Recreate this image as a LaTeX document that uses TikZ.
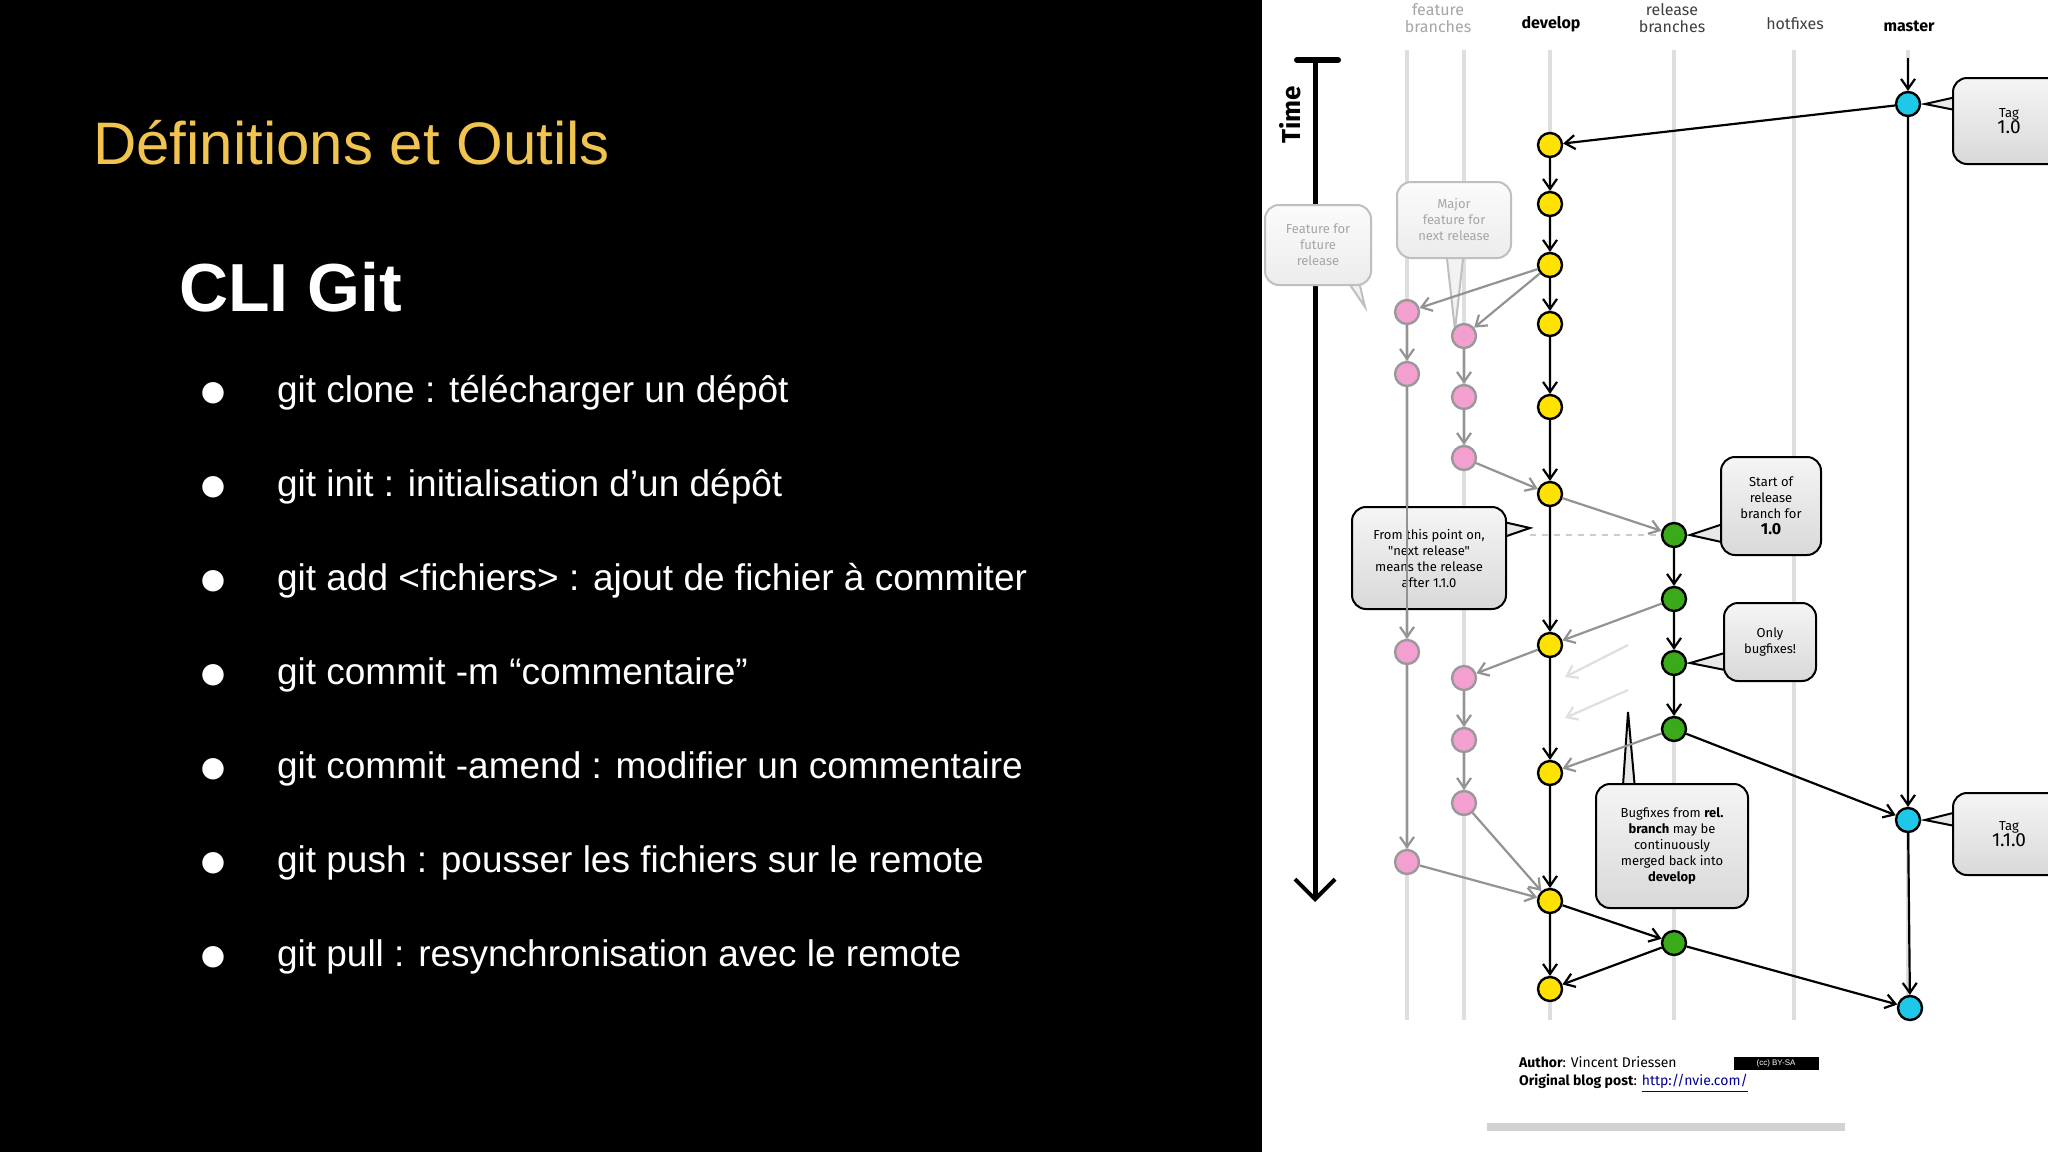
\documentclass[tikz,border=0pt]{standalone}
\usepackage{fontspec}
\setmainfont{Liberation Sans}
\newfontfamily\dfont{Fira Sans}
\newfontfamily\symfont{DejaVu Sans}
\usetikzlibrary{arrows.meta,shadows}
\definecolor{titley}{RGB}{241,196,80}
\definecolor{cyel}{RGB}{255,226,0}
\definecolor{cpink}{RGB}{243,160,208}
\definecolor{cgreen}{RGB}{58,170,26}
\definecolor{ccyan}{RGB}{30,200,232}
\definecolor{lane}{RGB}{222,222,222}
\tikzset{
 cmt/.style={circle,draw=black,line width=1.2pt,minimum size=12pt,inner sep=0pt},
 dv/.style={cmt,fill=cyel},
 ft/.style={cmt,fill=cpink,draw=gray!80},
 rl/.style={cmt,fill=cgreen},
 ms/.style={cmt,fill=ccyan},
 blk/.style={-{Straight Barb[length=5pt,width=7pt]},line width=1.1pt,black},
 gry/.style={-{Straight Barb[length=5pt,width=7pt]},line width=1.1pt,gray!85},
 faint/.style={-{Straight Barb[length=5pt,width=7pt]},line width=1.1pt,gray!25},
 bub/.style={draw=black,line width=1pt,rounded corners=7pt,top color=gray!8,bottom color=gray!30,align=center,font=\dfont\fontsize{6.5}{8}\selectfont,inner sep=2pt},
 fbub/.style={bub,draw=gray!50,top color=gray!3,bottom color=gray!15,text=gray!70},
 tl/.style={draw=black,line width=1pt,fill=gray!18},
 ftl/.style={draw=gray!50,line width=1pt,fill=gray!10},
 hd/.style={font=\dfont\fontsize{8}{8.5}\selectfont,align=center,text=gray!70},
 hdb/.style={font=\dfont\bfseries\fontsize{8}{8.5}\selectfont,align=center},
 itm/.style={anchor=west,text=white,font=\fontsize{18.5}{22}\selectfont}
}
\begin{document}
\begin{tikzpicture}[x=0.5pt,y=-0.5pt]
\useasboundingbox (0,0) rectangle (2048,1152);
\fill[black] (0,0) rectangle (1262,1152);
\fill[white] (1262,0) rectangle (2048,1152);
% left text
\node[anchor=west,text=titley,font=\fontsize{30}{34}\selectfont] (title) at (86,143) {Définitions et Outils};
\node[anchor=west,text=white,font=\bfseries\fontsize{34}{40}\selectfont] (cli) at (172,287) {CLI Git};
\foreach \y/\t [count=\i] in {393/{git clone : télécharger un dépôt},487/{git init : initialisation d’un dépôt},581/{git add <fichiers> : ajout de fichier à commiter},675/{git commit -m “commentaire”},769/{git commit -amend : modifier un commentaire},863/{git push : pousser les fichiers sur le remote},957/{git pull : resynchronisation avec le remote}}{
 \node[text=white,font=\symfont\fontsize{14}{14}\selectfont] (b\i) at (213,\y) {●};
 \node[itm] (t\i) at (270,\y) {\t};
}
% lanes
\foreach \x/\n in {1407/l1,1464/l2,1550/l3,1674/l4,1794/l5,1908/l6}{
 \draw[lane,line width=2pt] (\x,50) -- (\x,1020);
}
% headers
\node[hd] (h1) at (1438,18) {feature\\branches};
\node[hdb] (h2) at (1551,24) {develop};
\node[hd,text=black!75] (h3) at (1672,18) {release\\branches};
\node[hd,text=black!75] (h4) at (1795,24) {hotfixes};
\node[hdb] (h5) at (1909,26) {master};
% time axis
\coordinate (ta) at (1315,59);
\coordinate (tb) at (1315,902);
\draw[line width=3pt,line cap=round] (1297,60) -- (1338,60);
\draw[line width=2.5pt,-{Straight Barb[length=10pt,width=20pt,line width=2pt]}] (ta) -- (tb);
\node[rotate=90,font=\dfont\bfseries\fontsize{13}{13}\selectfont] (time) at (1290,115) {Time};
% bubbles (tails first)
\draw[ftl] (1340,270) -- (1365,307) -- (1355,265) -- cycle;
\node[fbub,minimum width=53pt,minimum height=40pt] (bf) at (1318,245) {Feature for\\future\\release};
\draw[ftl] (1446,250) -- (1455,330) -- (1464,250) -- cycle;
\node[fbub,minimum width=57pt,minimum height=38pt] (bm) at (1454,220) {Major\\feature for\\next release};
\draw[tl] (1495,520) -- (1530,528) -- (1495,540) -- cycle;
\node[bub,minimum width=77pt,minimum height=51pt] (bp) at (1429,558) {From this point on,\\"next release"\\means the release\\after 1.1.0};
\draw[dashed,gray!40,line width=1pt] (1530,535) -- (1660,535);
\draw[tl] (1735,520) -- (1690,535) -- (1735,545) -- cycle;
\node[bub,minimum width=50pt,minimum height=49pt] (bs) at (1771,506) {Start of\\release\\branch for\\{\bfseries\fontsize{8}{9}\selectfont 1.0}};
\draw[tl] (1735,650) -- (1690,663) -- (1735,672) -- cycle;
\node[bub,minimum width=46pt,minimum height=39pt] (bo) at (1770,642) {Only\\bugfixes!};
\draw[tl] (1622,800) -- (1628,712) -- (1636,800) -- cycle;
\node[bub,minimum width=76pt,minimum height=62pt] (bb) at (1672,846) {Bugfixes from \textbf{rel.}\\\textbf{branch} may be\\continuously\\merged back into\\\textbf{develop}};
\draw[tl] (1965,95) -- (1925,104) -- (1965,112) -- cycle;
\node[bub,minimum width=56pt,minimum height=43pt,anchor=west] (bt1) at (1952,121) {Tag\\{\fontsize{9.5}{11}\selectfont 1.0}};
\draw[tl] (1965,810) -- (1925,820) -- (1965,828) -- cycle;
\node[bub,minimum width=56pt,minimum height=41pt,anchor=west] (bt2) at (1952,834) {Tag\\{\fontsize{9.5}{11}\selectfont 1.1.0}};
% commits
\foreach \y [count=\i] in {145,204,265,324,407,494,645,773,901,989}{\node[dv] (d\i) at (1550,\y) {};}
\foreach \y [count=\i] in {312,374,652,862}{\node[ft] (f\i) at (1407,\y) {};}
\foreach \y [count=\i] in {336,397,458,678,740,803}{\node[ft] (g\i) at (1464,\y) {};}
\foreach \y [count=\i] in {535,599,663,729,943}{\node[rl] (r\i) at (1674,\y) {};}
\node[ms] (m1) at (1908,104) {};
\node[ms] (m2) at (1908,820) {};
\node[ms] (m3) at (1910,1008) {};
\coordinate (mtop) at (1908,58);
% edges
\draw[blk] (mtop) -- (m1);
\draw[blk] (m1) -- (d1);
\foreach \a/\b in {1/2,2/3,3/4,4/5,5/6,6/7,7/8,8/9,9/10}{\draw[blk] (d\a) -- (d\b);}
\draw[gry] (d3) -- (f1);
\draw[gry] (d3) -- (g1);
\foreach \a/\b in {1/2,2/3,3/4}{\draw[gry] (f\a) -- (f\b);}
\foreach \a/\b in {1/2,2/3,4/5,5/6}{\draw[gry] (g\a) -- (g\b);}
\draw[gry] (g3) -- (d6);
\draw[gry] (d6) -- (r1);
\foreach \a/\b in {1/2,2/3,3/4}{\draw[blk] (r\a) -- (r\b);}
\draw[gry] (r2) -- (d7);
\draw[gry] (d7) -- (g4);
\coordinate (fa1) at (1628,645); \coordinate (fa2) at (1565,677);
\coordinate (fb1) at (1628,690); \coordinate (fb2) at (1565,718);
\draw[faint] (fa1) -- (fa2);
\draw[faint] (fb1) -- (fb2);
\draw[gry] (r4) -- (d8);
\draw[blk] (r4) -- (m2);
\draw[blk] (m1) -- (m2);
\draw[gry] (g6) -- (d9);
\draw[gry] (f4) -- (d9);
\draw[blk] (d9) -- (r5);
\draw[blk] (r5) -- (d10);
\draw[blk] (r5) -- (m3);
\draw[blk] (m2) -- (m3);
% footer
\node[draw=none,fill=white,drop shadow={shadow xshift=0pt,shadow yshift=-4pt,opacity=0.35},minimum width=179pt,minimum height=49pt] (foot) at (1666,1074) {};
\node[anchor=west,align=left,font=\dfont\fontsize{7}{9}\selectfont] (auth) at (1512,1075) {\textbf{Author}: Vincent Driessen\\\textbf{Original blog post}: \textcolor{blue!60!black}{\underline{http://nvie.com/}}};
\node[draw=black,fill=black,minimum width=42pt,minimum height=6pt,inner sep=0pt,text=white,font=\fontsize{4}{4}\selectfont] (cc) at (1776,1063) {(cc) BY-SA};
\end{tikzpicture}
\end{document}
